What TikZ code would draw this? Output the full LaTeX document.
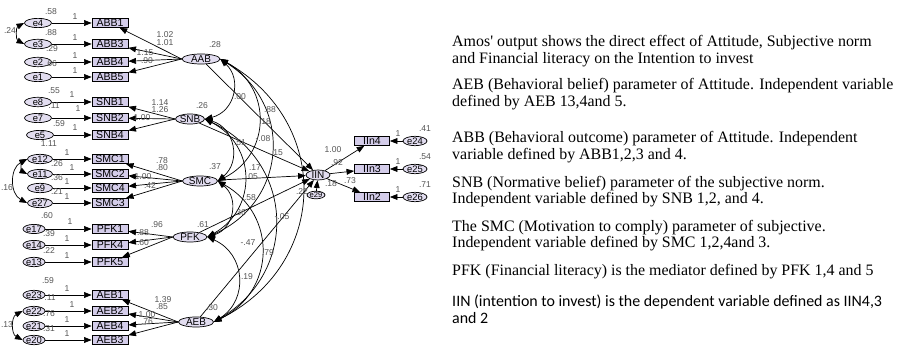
\documentclass[tikz,border=0pt]{standalone}
\usepackage{fontspec}
\setmainfont{Liberation Serif}
\setsansfont{Liberation Sans}
\newfontfamily\calibri{Carlito}
\usetikzlibrary{shapes.geometric,arrows.meta}
\definecolor{AmosLilac}{RGB}{226,221,240}
\definecolor{AmosBoxFill}{RGB}{212,205,234}
\definecolor{LabGray}{RGB}{85,85,85}
\newcommand\notefont{\fontsize{13.6}{14.3}\selectfont\lineskiplimit-20pt\relax}
\newcommand\calnotefont{\calibri\fontsize{13.6}{14.3}\selectfont\lineskiplimit-20pt\relax}
\tikzset{
  obs/.style={rectangle,draw=black,fill=AmosBoxFill,line width=0.6pt,minimum width=1.08cm,minimum height=0.27cm,inner sep=0pt,font=\sffamily\fontsize{9}{9}\selectfont},
  lat/.style={ellipse,draw=black,fill=AmosLilac,line width=0.6pt,minimum height=0.3cm,inner sep=0pt,font=\sffamily\fontsize{8.5}{8.5}\selectfont},
  err/.style={ellipse,draw=black,fill=AmosLilac,line width=0.6pt,minimum width=0.81cm,minimum height=0.27cm,inner sep=0pt,font=\sffamily\fontsize{8}{8}\selectfont},
  num/.style={inner sep=0pt,text=LabGray,font=\sffamily\fontsize{7.3}{7.3}\selectfont},
  reg/.style={draw=black,line width=0.6pt,-{Triangle[length=6.5pt,width=5pt]}},
  cov/.style={draw=black,line width=0.6pt,{Triangle[length=6.5pt,width=5pt]}-{Triangle[length=6.5pt,width=5pt]}},
  covr/.style={cov,bend left=62,looseness=1.25},
  covl/.style={cov,bend right=62,looseness=1.15},
  note/.style={anchor=base west,align=left,inner sep=0pt,font=\notefont},
}

\begin{document}
\begin{tikzpicture}[x=0.03cm,y=-0.03cm]
\useasboundingbox[fill=white] (0,0) rectangle (902,346);
% ABB block
\node[err](e4) at (38,23){e4};\node[obs](ABB1) at (110,23){ABB1};
\node[err](e3) at (38,44){e3};\node[obs](ABB3) at (110,44){ABB3};
\node[err](e2) at (38,62){e2};\node[obs](ABB4) at (110,62){ABB4};
\node[err](e1) at (38,77){e1};\node[obs](ABB5) at (110,77){ABB5};
\node[lat,minimum width=1.14cm](AAB) at (201,59){AAB};
% SNB block
\node[err](e8) at (38,102){e8};\node[obs](SNB1) at (110,102){SNB1};
\node[err](e7) at (38,118){e7};\node[obs](SNB2) at (110,118){SNB2};
\node[err](e5) at (40,135){e5};\node[obs](SNB4) at (110,135){SNB4};
\node[lat,minimum width=0.84cm](SNB) at (190,119){SNB};
% SMC block
\node[err,minimum width=0.75cm](e12) at (40,159){e12};\node[obs](SMC1) at (110,159){SMC1};
\node[err,minimum width=0.75cm](e11) at (40,174){e11};\node[obs](SMC2) at (110,174){SMC2};
\node[err,minimum width=0.75cm](e9) at (40,188){e9};\node[obs](SMC4) at (110,188){SMC4};
\node[err,minimum width=0.75cm](e27) at (40,203){e27};\node[obs](SMC3) at (110,203){SMC3};
\node[lat,minimum width=1.05cm](SMC) at (200,181){SMC};
% PFK block
\node[err,minimum width=0.6cm](e17) at (34,229){e17};\node[obs](PFK1) at (110,229){PFK1};
\node[err,minimum width=0.6cm](e14) at (34,245){e14};\node[obs](PFK4) at (110,245){PFK4};
\node[err,minimum width=0.6cm](e13) at (34,262){e13};\node[obs](PFK5) at (110,262){PFK5};
\node[lat,minimum width=1.02cm](PFK) at (190,237){PFK};
% AEB block
\node[err,minimum width=0.6cm](e23) at (34,295){e23};\node[obs](AEB1) at (110,295){AEB1};
\node[err,minimum width=0.6cm](e22) at (34,311){e22};\node[obs](AEB2) at (110,311){AEB2};
\node[err,minimum width=0.6cm](e21) at (34,326){e21};\node[obs](AEB4) at (110,326){AEB4};
\node[err,minimum width=0.6cm](e20) at (34,340){e20};\node[obs](AEB3) at (110,340){AEB3};
\node[lat,minimum width=1.05cm](AEB) at (196,322){AEB};
% IIN block
\node[lat,minimum width=0.72cm](IIN) at (318,175){IIN};
\node[err,minimum width=0.51cm,minimum height=0.2cm,font=\sffamily\fontsize{6.5}{6.5}\selectfont](e29) at (316,195){e29};
\node[obs,minimum width=1.05cm](IIn4) at (372,141){IIn4};\node[err,minimum width=0.72cm](e24) at (415,141){e24};
\node[obs,minimum width=1.05cm](IIn3) at (372,169){IIn3};\node[err,minimum width=0.72cm](e25) at (415,169){e25};
\node[obs,minimum width=1.05cm](IIn2) at (372,197){IIn2};\node[err,minimum width=0.72cm](e26) at (415,197){e26};

% errors to indicators
\draw[reg] (e4)--(ABB1);\draw[reg] (e3)--(ABB3);\draw[reg] (e2)--(ABB4);\draw[reg] (e1)--(ABB5);
\draw[reg] (e8)--(SNB1);\draw[reg] (e7)--(SNB2);\draw[reg] (e5)--(SNB4);
\draw[reg] (e12)--(SMC1);\draw[reg] (e11)--(SMC2);\draw[reg] (e9)--(SMC4);\draw[reg] (e27)--(SMC3);
\draw[reg] (e17)--(PFK1);\draw[reg] (e14)--(PFK4);\draw[reg] (e13)--(PFK5);
\draw[reg] (e23)--(AEB1);\draw[reg] (e22)--(AEB2);\draw[reg] (e21)--(AEB4);\draw[reg] (e20)--(AEB3);
\draw[reg] (e24)--(IIn4);\draw[reg] (e25)--(IIn3);\draw[reg] (e26)--(IIn2);\draw[reg] (e29)--(IIN);
% loadings
\draw[reg] (AAB.west)--(ABB1);\draw[reg] (AAB.west)--(ABB3);\draw[reg] (AAB.west)--(ABB4);\draw[reg] (AAB.west)--(ABB5);
\draw[reg] (SNB.west)--(SNB1);\draw[reg] (SNB.west)--(SNB2);\draw[reg] (SNB.west)--(SNB4);
\draw[reg] (SMC.west)--(SMC1);\draw[reg] (SMC.west)--(SMC2);\draw[reg] (SMC.west)--(SMC4);\draw[reg] (SMC.west)--(SMC3);
\draw[reg] (PFK.west)--(PFK1);\draw[reg] (PFK.west)--(PFK4);\draw[reg] (PFK.west)--(PFK5);
\draw[reg] (AEB.west)--(AEB1);\draw[reg] (AEB.west)--(AEB2);\draw[reg] (AEB.west)--(AEB4);\draw[reg] (AEB.west)--(AEB3);
\draw[reg] (IIN)--(IIn4);\draw[reg] (IIN)--(IIn3);\draw[reg] (IIN)--(IIn2);
% error covariances
\draw[covl] (e4.west) to (e3.west);\draw[covl] (e12.west) to (e11.west);
\draw[covl] (e12.west) to (e27.west);\draw[covl] (e22.west) to (e20.west);
% construct covariances
\draw[covr] (AAB.east) to (SNB.east);\draw[covr] (AAB.east) to (SMC.east);
\draw[covr] (AAB.east) to (PFK.east);\draw[covr] (AAB.east) to (AEB.east);
\draw[covr] (SNB.east) to (SMC.east);\draw[covr] (SNB.east) to (PFK.east);\draw[covr] (SNB.east) to (AEB.east);
\draw[covr] (SMC.east) to (PFK.east);\draw[covr] (SMC.east) to (AEB.east);
\draw[covr] (PFK.east) to (AEB.east);
% paths to intention
\draw[reg] (AAB)--(IIN);\draw[reg] (SNB)--(IIN);\draw[reg] (SMC)--(IIN);
\draw[reg] (PFK)--(IIN);\draw[reg] (AEB)--(IIN);

% estimates
\node[num](ve4) at (51,12){.58};\node[num](ve3) at (51,33){.88};\node[num](ve2) at (52,49){.29};\node[num](ve1) at (51,64){.66};
\node[num](ve8) at (54,91){.55};\node[num](ve7) at (54,106){.11};\node[num](ve5) at (59,124){.59};
\node[num](ve12) at (49,144){1.11};\node[num](ve11) at (57,164){.26};\node[num](ve9) at (57,178){.36};\node[num](ve27) at (57,192){.21};
\node[num](ve17) at (47,216){.60};\node[num](ve14) at (49,234){.39};\node[num](ve13) at (49,251){.22};
\node[num](ve23) at (48,281){.59};\node[num](ve22) at (50,298){.11};\node[num](ve21) at (49,314){.76};\node[num](ve20) at (49,329){.31};
\node[num](c43) at (10,31){.24};\node[num](c1227) at (7,188){.16};\node[num](c2220) at (7,325){.13};
\node[num](o1) at (75,17){1};\node[num](o2) at (75,38){1};\node[num](o3) at (75,56){1};\node[num](o4) at (75,71){1};
\node[num](o5) at (72,95){1};\node[num](o6) at (78,109){1};\node[num](o7) at (75,128){1};
\node[num](o8) at (67,153){1};\node[num](o9) at (72,168){1};\node[num](o10) at (67,182){1};\node[num](o11) at (67,197){1};
\node[num](o12) at (70,222){1};\node[num](o13) at (67,239){1};\node[num](o14) at (67,256){1};
\node[num](o15) at (67,289){1};\node[num](o16) at (72,305){1};\node[num](o17) at (67,320){1};\node[num](o18) at (67,334){1};
\node[num](wA1) at (165,35){1.02};\node[num](wA3) at (165,43){1.01};\node[num](wA4) at (145,53){1.15};\node[num](wA5) at (147,61){.90};
\node[num](wS1) at (160,103){1.14};\node[num](wS2) at (160,110){1.26};\node[num](wS4) at (142,118){1.00};
\node[num](wM1) at (162,161){.78};\node[num](wM2) at (162,168){.80};\node[num](wM4) at (143,177){1.00};\node[num](wM3) at (150,186){.42};
\node[num](wP1) at (157,225){.96};\node[num](wP4) at (143,233){.88};\node[num](wP5) at (143,243){.60};
\node[num](wE1) at (163,300){1.39};\node[num](wE2) at (162,307){.85};\node[num](wE4) at (147,315){1.00};\node[num](wE3) at (147,322){.76};
\node[num](vAAB) at (215,45){.28};\node[num](vSNB) at (202,106){.26};\node[num](vSMC) at (215,167){.37};
\node[num](vPFK) at (203,225){.61};\node[num](vAEB) at (212,308){.30};
\node[num](k1) at (240,97){.00};\node[num](k2) at (270,110){.88};\node[num](k3) at (265,122){.18};
\node[num](k4) at (263,139){-.08};\node[num](k5) at (277,153){.15};\node[num](k6) at (240,143){.51};
\node[num](k7) at (255,168){.17};\node[num](k8) at (252,177){.05};\node[num](k9) at (250,198){.58};
\node[num](k10) at (240,213){.36};\node[num](k11) at (282,217){-.05};\node[num](k12) at (248,243){-.47};
\node[num](k13) at (268,253){.79};\node[num](k14) at (247,277){.19};
\node[num](v29) at (302,192){.22};\node[num](rIIN) at (331,184){.18};
\node[num](wI4) at (333,150){1.00};\node[num](wI3) at (337,163){.92};\node[num](wI2) at (350,181){.73};
\node[num](o19) at (398,134){1};\node[num](o20) at (398,162){1};\node[num](o21) at (398,190){1};
\node[num](ve24) at (425,129){.41};\node[num](ve25) at (425,157){.54};\node[num](ve26) at (425,185){.71};

% explanation
\node[note](n1) at (452,63.3){Amos\textquotesingle{} output shows the direct effect of Attitude, Subjective norm\\and Financial literacy on the Intention to invest};
\node[note](n2) at (452,106.7){AEB (Behavioral belief) parameter of Attitude. Independent variable\\defined by AEB 13,4and 5.};
\node[note](n3) at (452,159.5){ABB (Behavioral outcome) parameter of Attitude. Independent\\variable defined by ABB1,2,3 and 4.};
\node[note](n4) at (452,204){SNB (Normative belief) parameter of the subjective norm.\\Independent variable defined by SNB 1,2, and 4.};
\node[note](n5) at (452,248){The SMC (Motivation to comply) parameter of subjective.\\Independent variable defined by SMC 1,2,4and 3.};
\node[note](n6) at (452,275.5){PFK (Financial literacy) is the mediator defined by PFK 1,4 and 5};
\node[note,font=\calnotefont](n7) at (452,323){IIN (intention to invest) is the dependent variable defined as IIN4,3\\and 2};
\end{tikzpicture}
\end{document}
